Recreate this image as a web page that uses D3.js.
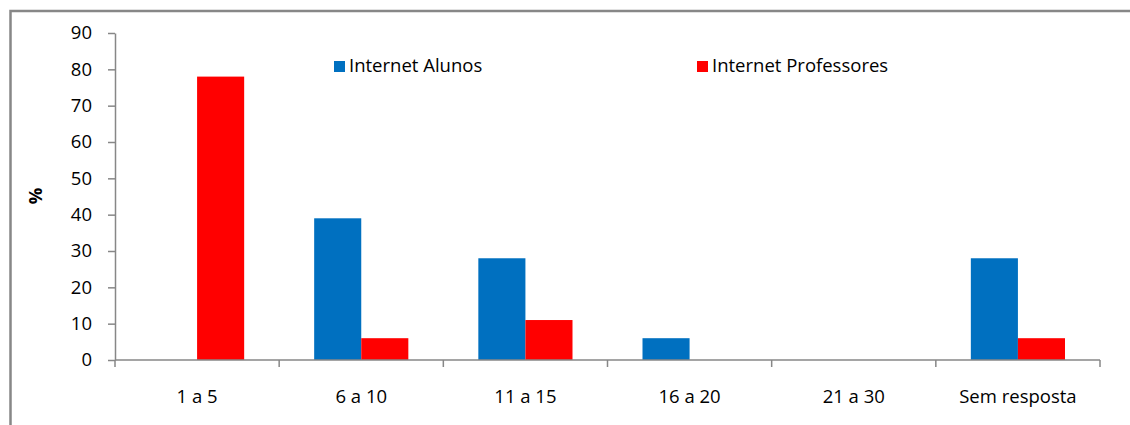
<!DOCTYPE html>
<html>
<head>
<meta charset="utf-8">
<script src="https://cdn.jsdelivr.net/npm/d3@7"></script>
<style>
  html, body { margin: 0; padding: 0; background: #fff; }
  svg { display: block; font-family: "Open Sans", Lato, sans-serif; }
</style>
</head>
<body>
<svg id="chart" width="1130" height="425"></svg>
<script>
// Faixas de horas de uso da internet
const categories = ["1 a 5", "6 a 10", "11 a 15", "16 a 20", "21 a 30", "Sem resposta"];
const seriesNames = ["Internet Alunos", "Internet Professores"];
const alunos = [0, 39, 28, 6, 0, 28];
const professores = [78, 6, 11, 0, 0, 6];
const yTicks = [0, 10, 20, 30, 40, 50, 60, 70, 80, 90];
const colors = ["#0070C0", "#FF0000"];

const FONT = "'Open Sans', Lato, sans-serif";
const FS = 18.5;

const svg = d3.select("#chart");

// Moldura do gráfico
svg.append("rect")
  .attr("x", 10.5).attr("y", 11)
  .attr("width", 1140).attr("height", 440)
  .attr("fill", "none")
  .attr("stroke", "#878787")
  .attr("stroke-width", 2.5);

const x0 = 115, x1 = 1100, yBase = 360, yTop = 33;

const x = d3.scaleBand()
  .domain(categories)
  .range([x0, x1])
  .paddingInner(0.4264)
  .paddingOuter(0.2132);

const xs = d3.scaleBand()
  .domain(seriesNames)
  .range([0, x.bandwidth()]);

const y = d3.scaleLinear().domain([0, 90]).range([yBase, yTop]);

const rows = categories.map((c, i) => ({ cat: c, vals: [alunos[i], professores[i]] }));

// Barras
const groups = svg.append("g").selectAll("g")
  .data(rows).join("g")
  .attr("transform", d => `translate(${x(d.cat)},0)`);

groups.selectAll("rect")
  .data(d => d.vals.map((v, k) => ({ v, k })))
  .join("rect")
  .attr("x", d => xs(seriesNames[d.k]))
  .attr("width", xs.bandwidth())
  .attr("y", d => y(d.v))
  .attr("height", d => yBase - y(d.v))
  .attr("fill", d => colors[d.k]);

// Eixo Y
const yAxis = svg.append("g")
  .attr("transform", `translate(${x0},0)`)
  .call(d3.axisLeft(y).tickValues(yTicks).tickSize(7).tickPadding(16).tickSizeOuter(0));
yAxis.select(".domain").attr("stroke", "#878787").attr("stroke-width", 1.5);
yAxis.selectAll(".tick line").attr("stroke", "#878787").attr("stroke-width", 1.5);
yAxis.selectAll(".tick text").attr("font-size", FS).attr("fill", "#000")
  .attr("font-family", FONT);

// Eixo X com marcas entre categorias
const xAxisG = svg.append("g").attr("transform", `translate(0,${yBase})`);
xAxisG.append("line")
  .attr("x1", x0).attr("x2", x1)
  .attr("stroke", "#878787").attr("stroke-width", 1.5);
const step = x.step();
const boundaries = d3.range(categories.length + 1).map(i => x0 + i * step);
xAxisG.selectAll("line.tk").data(boundaries).join("line")
  .attr("class", "tk")
  .attr("x1", d => d).attr("x2", d => d)
  .attr("y1", 0).attr("y2", 7)
  .attr("stroke", "#878787").attr("stroke-width", 1.5);
xAxisG.selectAll("text").data(categories).join("text")
  .attr("x", d => x(d) + x.bandwidth() / 2)
  .attr("y", 43)
  .attr("text-anchor", "middle")
  .attr("font-size", FS)
  .attr("fill", "#000")
  .text(d => d);

// Título do eixo Y
svg.append("text")
  .attr("transform", `translate(42,196) rotate(-90)`)
  .attr("text-anchor", "middle")
  .attr("font-size", FS)
  .attr("font-weight", "bold")
  .text("%");

// Legenda
const legendPos = [334, 697];
const legend = svg.append("g").selectAll("g")
  .data(seriesNames).join("g")
  .attr("transform", (d, i) => `translate(${legendPos[i]},60)`);
legend.append("rect")
  .attr("width", 11).attr("height", 11).attr("y", 1)
  .attr("fill", (d, i) => colors[i]);
legend.append("text")
  .attr("x", 15).attr("y", 12)
  .attr("font-size", FS)
  .attr("fill", "#000")
  .text(d => d);
</script>
</body>
</html>
